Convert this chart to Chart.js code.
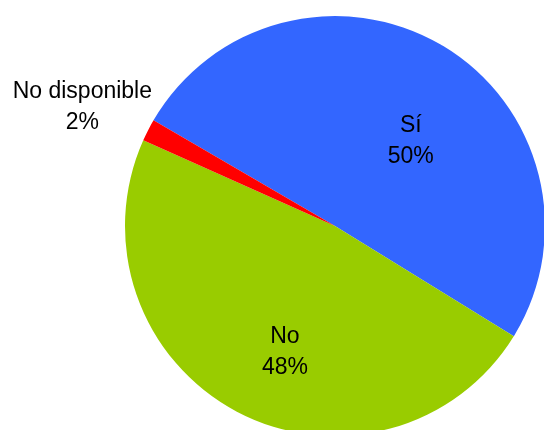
<!DOCTYPE html>
<html>
<head>
<meta charset="utf-8">
<script src="https://cdn.jsdelivr.net/npm/chart.js@4"></script>
<style>
  html, body { margin: 0; padding: 0; background: #ffffff; overflow: hidden; }
  canvas { display: block; }
</style>
</head>
<body>
<canvas id="pieChart" width="550" height="440"></canvas>
<script>
// Datos
var categories = ['Sí', 'No', 'No disponible'];
var values = [50.4, 47.9, 1.7];
var colors = ['#3366ff', '#99cc00', '#ff0000'];

// Label placement per slice: fraction of radius, angle tweak (deg)
var labelRadius = [0.55, 0.639, 1.333];
var labelAngle = [10.1, -5.96, -1.64];

var total = values.reduce(function(a, b) { return a + b; }, 0);

var pieLabels = {
    id: 'pieLabels',
    afterDatasetsDraw: function(chart) {
        var ctx = chart.ctx;
        var meta = chart.getDatasetMeta(0);
        ctx.save();
        ctx.font = '23px "Liberation Sans", Arial, sans-serif';
        ctx.fillStyle = '#000000';
        ctx.textAlign = 'center';
        ctx.textBaseline = 'alphabetic';
        var lineGap = 31;
        var capHalf = 23 * 0.716 / 2;
        meta.data.forEach(function(arc, i) {
            var p = arc.getProps(['x', 'y', 'startAngle', 'endAngle', 'outerRadius'], true);
            var mid = (p.startAngle + p.endAngle) / 2 + labelAngle[i] * Math.PI / 180;
            var r = p.outerRadius * labelRadius[i];
            var cx = p.x + Math.cos(mid) * r;
            var cy = p.y + Math.sin(mid) * r;
            var pct = Math.round(values[i] / total * 100) + '%';
            ctx.fillText(categories[i], cx, cy - lineGap / 2 + capHalf);
            ctx.fillText(pct, cx, cy + lineGap / 2 + capHalf);
        });
        ctx.restore();
    }
};

new Chart(document.getElementById('pieChart'), {
    type: 'pie',
    data: {
        labels: categories,
        datasets: [{
            data: values,
            backgroundColor: colors,
            borderWidth: 0
        }]
    },
    options: {
        responsive: false,
        animation: false,
        rotation: -59.8,
        layout: {
            padding: { left: 125, top: 16, right: 5, bottom: 4 }
        },
        plugins: {
            legend: { display: false },
            tooltip: { enabled: false }
        }
    },
    plugins: [pieLabels]
});
</script>
</body>
</html>
